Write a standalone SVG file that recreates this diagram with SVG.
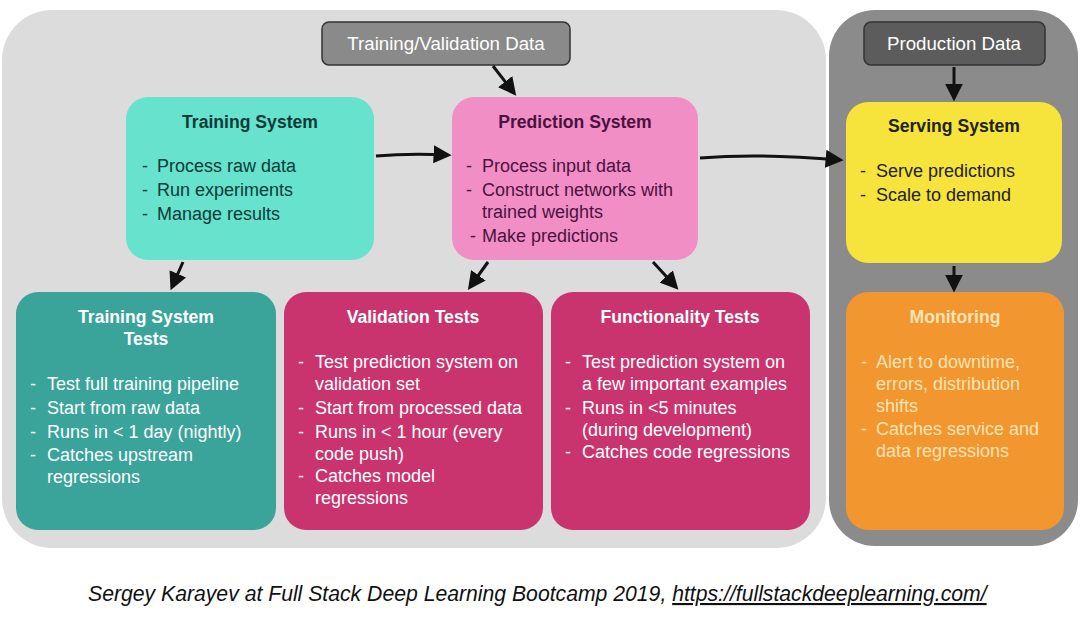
<svg xmlns="http://www.w3.org/2000/svg" width="1080" height="639" viewBox="0 0 1080 639">
<style>
text{font-family:"Liberation Sans",Arial,sans-serif;font-size:18px}
.t{font-weight:bold;text-anchor:middle;font-size:17.6px}
.dk{fill:#0d3b38}
.pu{fill:#4a1240}
.bk{fill:#222}
.w{fill:#ffffff}
.cr{fill:#fbe3b4}
.data{fill:#ffffff;text-anchor:middle;font-size:18.7px}
.conn path{fill:none;stroke:#111;stroke-width:3}
</style>
<defs>
<marker id="ah" viewBox="0 0 10 10" refX="8" refY="5" markerWidth="6" markerHeight="6" orient="auto" markerUnits="strokeWidth">
<path d="M0,0 L10,5 L0,10 z" fill="#111"/>
</marker>
</defs>
<rect width="1080" height="639" fill="#ffffff"/>
<g id="dev-env"><rect x="2" y="10" width="824" height="538" rx="50" fill="#dcdcdc"/></g>
<g id="prod-env"><rect x="829" y="10" width="249" height="536" rx="46" fill="#8b8b8b"/></g>

<g id="train-val-data">
<rect x="322" y="22" width="248" height="43" rx="7" fill="#8a8a8a" stroke="#333" stroke-width="1.5"/>
<text class="data" x="446" y="50">Training/Validation Data</text>
</g>
<g id="production-data">
<rect x="864" y="22" width="181" height="43" rx="7" fill="#5c5c5c" stroke="#333" stroke-width="1.5"/>
<text class="data" x="954" y="50">Production Data</text>
</g>

<g id="training-system">
<rect x="126" y="97" width="248" height="163" rx="22" fill="#66e2cd"/>
<text class="t dk" x="250" y="128">Training System</text>
<text class="dk" x="142" y="172">-</text><text class="dk" x="157" y="172">Process raw data</text>
<text class="dk" x="142" y="196">-</text><text class="dk" x="157" y="196">Run experiments</text>
<text class="dk" x="142" y="220">-</text><text class="dk" x="157" y="220">Manage results</text>
</g>

<g id="prediction-system">
<rect x="452" y="97" width="246" height="163" rx="22" fill="#f28ec6"/>
<text class="t pu" x="575" y="128">Prediction System</text>
<text class="pu" x="466" y="172">-</text><text class="pu" x="482" y="172">Process input data</text>
<text class="pu" x="466" y="196">-</text><text class="pu" x="482" y="196">Construct networks with</text>
<text class="pu" x="482" y="218">trained weights</text>
<text class="pu" x="470" y="242">-</text><text class="pu" x="482" y="242">Make predictions</text>
</g>

<g id="serving-system">
<rect x="846" y="102" width="216" height="161" rx="22" fill="#f6e43c"/>
<text class="t bk" x="954" y="132">Serving System</text>
<text class="bk" x="860" y="177">-</text><text class="bk" x="876" y="177">Serve predictions</text>
<text class="bk" x="860" y="201">-</text><text class="bk" x="876" y="201">Scale to demand</text>
</g>

<g id="training-system-tests">
<rect x="16" y="292" width="260" height="238" rx="22" fill="#3aa49b"/>
<text class="t w" x="146" y="323">Training System</text>
<text class="t w" x="146" y="345">Tests</text>
<text class="w" x="30" y="390">-</text><text class="w" x="47" y="390">Test full training pipeline</text>
<text class="w" x="30" y="414">-</text><text class="w" x="47" y="414">Start from raw data</text>
<text class="w" x="30" y="438">-</text><text class="w" x="47" y="438">Runs in &lt; 1 day (nightly)</text>
<text class="w" x="30" y="461">-</text><text class="w" x="47" y="461">Catches upstream</text>
<text class="w" x="47" y="483">regressions</text>
</g>

<g id="validation-tests">
<rect x="284" y="292" width="259" height="238" rx="22" fill="#c9346f"/>
<text class="t w" x="413" y="323">Validation Tests</text>
<text class="w" x="298" y="368">-</text><text class="w" x="315" y="368">Test prediction system on</text>
<text class="w" x="315" y="390">validation set</text>
<text class="w" x="298" y="414">-</text><text class="w" x="315" y="414">Start from processed data</text>
<text class="w" x="298" y="438">-</text><text class="w" x="315" y="438">Runs in &lt; 1 hour (every</text>
<text class="w" x="315" y="460">code push)</text>
<text class="w" x="298" y="482">-</text><text class="w" x="315" y="482">Catches model</text>
<text class="w" x="315" y="504">regressions</text>
</g>

<g id="functionality-tests">
<rect x="551" y="292" width="259" height="238" rx="22" fill="#c9346f"/>
<text class="t w" x="680" y="323">Functionality Tests</text>
<text class="w" x="565" y="368">-</text><text class="w" x="582" y="368">Test prediction system on</text>
<text class="w" x="582" y="390">a few important examples</text>
<text class="w" x="565" y="414">-</text><text class="w" x="582" y="414">Runs in &lt;5 minutes</text>
<text class="w" x="582" y="436">(during development)</text>
<text class="w" x="565" y="458">-</text><text class="w" x="582" y="458">Catches code regressions</text>
</g>

<g id="monitoring">
<rect x="846" y="292" width="218" height="238" rx="22" fill="#f29630"/>
<text class="t cr" x="955" y="323">Monitoring</text>
<text class="cr" x="861" y="368">-</text><text class="cr" x="876" y="368">Alert to downtime,</text>
<text class="cr" x="876" y="390">errors, distribution</text>
<text class="cr" x="876" y="412">shifts</text>
<text class="cr" x="861" y="435">-</text><text class="cr" x="876" y="435">Catches service and</text>
<text class="cr" x="876" y="457">data regressions</text>
</g>

<g class="conn" id="connectors">
<path d="M493,66 L514,93" marker-end="url(#ah)"/>
<path d="M376,156 Q410,153 448,155" marker-end="url(#ah)"/>
<path d="M700,158 Q760,153 840,160" marker-end="url(#ah)"/>
<path d="M954,67 L954,98" marker-end="url(#ah)"/>
<path d="M954,266 L954,289" marker-end="url(#ah)"/>
<path d="M183,262 L172,287" marker-end="url(#ah)"/>
<path d="M488,262 L470,287" marker-end="url(#ah)"/>
<path d="M653,262 L676,287" marker-end="url(#ah)"/>
</g>

<g id="caption">
<text x="88" y="601" style="font-size:21.2px;font-style:italic;fill:#111">Sergey Karayev at Full Stack Deep Learning Bootcamp 2019, <tspan text-decoration="underline">https://fullstackdeeplearning.com/</tspan></text>
</g>
</svg>
